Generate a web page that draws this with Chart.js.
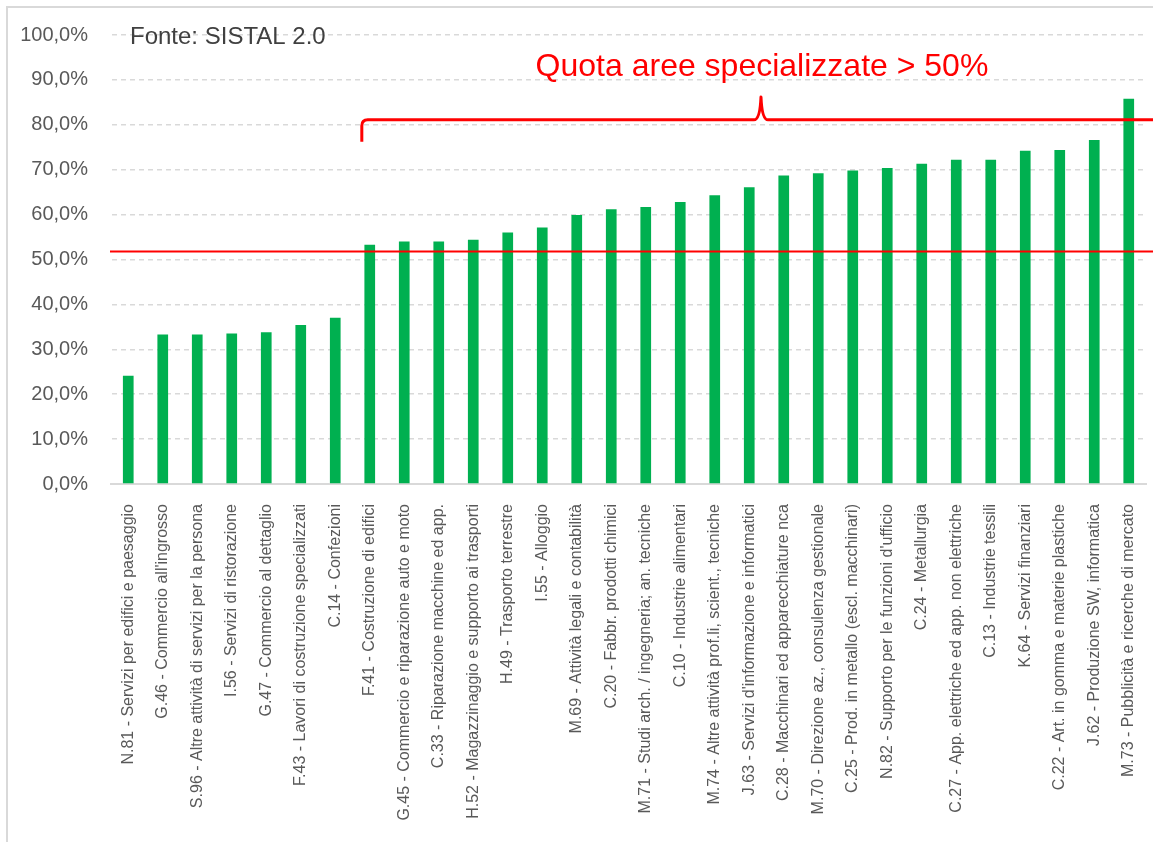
<!DOCTYPE html>
<html>
<head>
<meta charset="utf-8">
<title>Quota aree specializzate</title>
<script src="https://cdn.jsdelivr.net/npm/chart.js@4/dist/chart.umd.min.js"></script>
<style>
  body { margin: 0; background: #ffffff; }
  canvas { display: block; }
</style>
</head>
<body>
<canvas id="chart" width="1153" height="842"></canvas>
<script>
//Data
var sectors = [
  'N.81 - Servizi per edifici e paesaggio',
  'G.46 - Commercio all\'ingrosso',
  'S.96 - Altre attività di servizi per la persona',
  'I.56 - Servizi di ristorazione',
  'G.47 - Commercio al dettaglio',
  'F.43 - Lavori di costruzione specializzati',
  'C.14 - Confezioni',
  'F.41 - Costruzione di edifici',
  'G.45 - Commercio e riparazione auto e moto',
  'C.33 - Riparazione macchine ed app.',
  'H.52 - Magazzinaggio e supporto ai trasporti',
  'H.49 - Trasporto terrestre',
  'I.55 - Alloggio',
  'M.69 - Attività legali e contabilità',
  'C.20 - Fabbr. prodotti chimici',
  'M.71 - Studi arch. / ingegneria; an. tecniche',
  'C.10 - Industrie alimentari',
  'M.74 - Altre attività prof.li, scient., tecniche',
  'J.63 - Servizi d\'informazione e informatici',
  'C.28 - Macchinari ed apparecchiature nca',
  'M.70 - Direzione az., consulenza gestionale',
  'C.25 - Prod. in metallo (escl. macchinari)',
  'N.82 - Supporto per le funzioni d\'ufficio',
  'C.24 - Metallurgia',
  'C.27 - App. elettriche ed app. non elettriche',
  'C.13 - Industrie tessili',
  'K.64 - Servizi finanziari',
  'C.22 - Art. in gomma e materie plastiche',
  'J.62 - Produzione SW, informatica',
  'M.73 - Pubblicità e ricerche di mercato'
];
var shares = [24.1, 33.3, 33.3, 33.5, 33.8, 35.4, 37.0, 53.3, 54.0, 54.0,
  54.4, 56.0, 57.1, 59.9, 61.2, 61.7, 62.8, 64.3, 66.1, 68.7,
  69.2, 69.8, 70.4, 71.3, 72.2, 72.2, 74.2, 74.4, 76.6, 85.8];
var yTicks = [0, 10, 20, 30, 40, 50, 60, 70, 80, 90, 100];

//Annotations
var sourceText = 'Fonte: SISTAL 2.0';
var bracketText = 'Quota aree specializzate > 50%';
var thresholdValue = 51.8;
var bracketFrom = 6.77;
var bracketPeak = 18.34;
var bracketLevel = 81.1;
var bracketFoot = 76.2;
var bracketTop = 86.2;

var green = '#00b050';
var red = '#ff0000';
var grey = '#595959';

function formatPercent(v) {
  return v.toFixed(1).replace('.', ',') + '%';
}

//Draws frame, threshold line, bracket and texts
var extrasPlugin = {
  id: 'extras',
  beforeDraw: function(chart) {
    var ctx = chart.ctx;
    ctx.save();
    ctx.strokeStyle = '#d9d9d9';
    ctx.lineWidth = 2;
    ctx.beginPath();
    ctx.moveTo(7, chart.height);
    ctx.lineTo(7, 7);
    ctx.lineTo(chart.width, 7);
    ctx.stroke();
    ctx.restore();
  },
  afterDatasetsDraw: function(chart) {
    var ctx = chart.ctx;
    var xs = chart.scales.x;
    var ys = chart.scales.y;
    var area = chart.chartArea;
    ctx.save();

    //threshold line
    var yt = ys.getPixelForValue(thresholdValue);
    ctx.strokeStyle = red;
    ctx.lineWidth = 2;
    ctx.beginPath();
    ctx.moveTo(area.left - 1, yt);
    ctx.lineTo(chart.width, yt);
    ctx.stroke();

    //bracket
    var x0 = xs.getPixelForValue(bracketFrom);
    var xp = xs.getPixelForValue(bracketPeak);
    var yl = ys.getPixelForValue(bracketLevel);
    var yf = ys.getPixelForValue(bracketFoot);
    var yp = ys.getPixelForValue(bracketTop);
    ctx.lineWidth = 3;
    ctx.lineJoin = 'round';
    ctx.beginPath();
    ctx.moveTo(x0, yf);
    ctx.lineTo(x0, yl + 6);
    ctx.quadraticCurveTo(x0, yl, x0 + 6, yl);
    ctx.lineTo(xp - 7, yl);
    ctx.quadraticCurveTo(xp - 1, yl, xp, yp);
    ctx.quadraticCurveTo(xp + 1, yl, xp + 7, yl);
    ctx.lineTo(chart.width, yl);
    ctx.stroke();

    //texts
    ctx.fillStyle = red;
    ctx.font = '32px "Liberation Sans", Arial, sans-serif';
    ctx.textAlign = 'center';
    ctx.textBaseline = 'alphabetic';
    ctx.fillText(bracketText, xp + 1, 76);

    ctx.fillStyle = '#404040';
    ctx.font = '24px "Liberation Sans", Arial, sans-serif';
    ctx.textAlign = 'left';
    ctx.fillText(sourceText, 130, 44);
    ctx.restore();
  }
};

var ctx = document.getElementById('chart').getContext('2d');
var chart = new Chart(ctx, {
  type: 'bar',
  data: {
    labels: sectors,
    datasets: [
      {
        label: 'Quota aree specializzate',
        data: shares,
        backgroundColor: green,
        borderWidth: 0,
        categoryPercentage: 1,
        barPercentage: 0.31
      }
    ]
  },
  options: {
    responsive: false,
    animation: false,
    layout: {
      padding: { left: 0, top: 30, right: 7, bottom: 0 }
    },
    plugins: {
      legend: { display: false },
      tooltip: { enabled: false }
    },
    scales: {
      x: {
        grid: { display: false },
        border: { display: true, color: '#d9d9d9', width: 2 },
        ticks: {
          autoSkip: false,
          minRotation: 90,
          maxRotation: 90,
          padding: 12,
          color: grey,
          font: { family: '"Liberation Sans", Arial, sans-serif', size: 16 }
        },
        afterFit: function(scale) {
          scale.height = 358;
          scale.paddingRight = 0;
        }
      },
      y: {
        min: 0,
        max: 100,
        afterBuildTicks: function(scale) {
          scale.ticks = yTicks.map(function(v) { return { value: v }; });
        },
        grid: {
          color: '#d9d9d9',
          lineWidth: 1.5,
          drawTicks: false,
          borderDash: [5, 4]
        },
        border: { display: true, color: 'rgba(0,0,0,0)', dash: [5, 4] },
        ticks: {
          padding: 23,
          color: grey,
          font: { family: '"Liberation Sans", Arial, sans-serif', size: 20 },
          callback: function(v) { return formatPercent(v); }
        },
        afterFit: function(scale) {
          scale.width = 111;
        }
      }
    }
  },
  plugins: [extrasPlugin]
});
</script>
</body>
</html>
